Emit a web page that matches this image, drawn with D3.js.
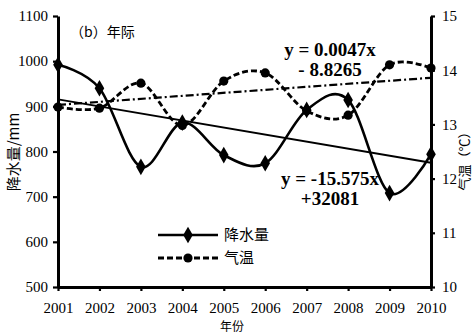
<!DOCTYPE html>
<html>
<head>
<meta charset="utf-8">
<script src="https://cdn.jsdelivr.net/npm/d3@7"></script>
<style>
  html, body { margin: 0; padding: 0; background: #fff; }
  svg { display: block; }
</style>
</head>
<body>
<svg id="chart" width="476" height="333"></svg>
<script>
// Annual precipitation (mm) and mean air temperature (°C), 2001–2010
const years = [2001, 2002, 2003, 2004, 2005, 2006, 2007, 2008, 2009, 2010];
const precip = [992, 940, 766, 864, 792, 774, 892, 914, 708, 794];
const temp = [13.32, 13.30, 13.76, 12.98, 13.80, 13.95, 13.25, 13.17, 14.10, 14.04];

// Linear trend of precipitation: y = slope * year + intercept
const precipFit = [-15.575, 32081];
// Temperature trend line, value at first and last year
const tempTrend = [13.36, 13.86];

const leftTicks = [500, 600, 700, 800, 900, 1000, 1100];
const rightTicks = [10, 11, 12, 13, 14, 15];

const svg = d3.select("#chart");
const plotL = 58, plotR = 431, plotT = 16, plotB = 287;

const x = d3.scaleLinear().domain([2001, 2010]).range([plotL, plotR]);
const yL = d3.scaleLinear().domain([500, 1100]).range([plotB, plotT]);
const yR = d3.scaleLinear().domain([10, 15]).range([plotB, plotT]);

// Trend lines
svg.append("line")
  .attr("x1", x(years[0])).attr("y1", yL(precipFit[0] * years[0] + precipFit[1]))
  .attr("x2", x(years[years.length - 1])).attr("y2", yL(precipFit[0] * years[years.length - 1] + precipFit[1]))
  .attr("stroke", "#000").attr("stroke-width", 2);

svg.append("line")
  .attr("x1", x(years[0])).attr("y1", yR(tempTrend[0]))
  .attr("x2", x(years[years.length - 1])).attr("y2", yR(tempTrend[1]))
  .attr("stroke", "#000").attr("stroke-width", 2.2)
  .attr("stroke-dasharray", "8,3,2,3");

// Smoothed series
const curve = d3.curveCatmullRom.alpha(0);
const precipLine = d3.line().x((d, i) => x(years[i])).y(d => yL(d)).curve(curve);
const tempLine = d3.line().x((d, i) => x(years[i])).y(d => yR(d)).curve(curve);

svg.append("path").datum(temp)
  .attr("d", tempLine).attr("fill", "none")
  .attr("stroke", "#000").attr("stroke-width", 2.8)
  .attr("stroke-dasharray", "6,3");

svg.append("path").datum(precip)
  .attr("d", precipLine).attr("fill", "none")
  .attr("stroke", "#000").attr("stroke-width", 2.6);

const diamond = d3.symbol().type(d3.symbolDiamond).size(80);

svg.append("g").selectAll("circle").data(temp).join("circle")
  .attr("cx", (d, i) => x(years[i])).attr("cy", d => yR(d))
  .attr("r", 4.6).attr("fill", "#000");

svg.append("g").selectAll("path").data(precip).join("path")
  .attr("d", diamond)
  .attr("transform", (d, i) => `translate(${x(years[i])},${yL(d)})`)
  .attr("fill", "#000");

// Axes
const serif = '"Liberation Serif", "DejaVu Serif", serif';
function styleAxis(g) {
  g.attr("font-family", null).attr("font-size", null);
  g.select(".domain").attr("stroke-width", 3);
  g.selectAll(".tick line").attr("stroke-width", 2.2);
  g.selectAll(".tick text")
    .attr("font-family", serif).attr("font-size", 15).attr("fill", "#000");
}

svg.append("g").attr("transform", `translate(${plotL},0)`)
  .call(d3.axisLeft(yL).tickValues(leftTicks).tickFormat(d3.format("d"))
    .tickSize(5).tickSizeOuter(0).tickPadding(5))
  .call(styleAxis);

svg.append("g").attr("transform", `translate(${plotR},0)`)
  .call(d3.axisRight(yR).tickValues(rightTicks).tickFormat(d3.format("d"))
    .tickSize(4).tickSizeOuter(0).tickPadding(7))
  .call(styleAxis);

svg.append("g").attr("transform", `translate(0,${plotB})`)
  .call(d3.axisBottom(x).tickValues(years).tickFormat(d3.format("d"))
    .tickSize(4).tickSizeOuter(0).tickPadding(11))
  .call(styleAxis);

// Axis titles
const cjk = '"Noto Sans CJK SC", "Noto Sans", sans-serif';
svg.append("text")
  .attr("transform", "translate(19,152) rotate(-90)")
  .attr("text-anchor", "middle")
  .style("font-family", cjk).style("font-size", "15px")
  .text("降水量/mm");

svg.append("text")
  .attr("transform", "translate(469,158) rotate(-90)")
  .attr("text-anchor", "middle")
  .style("font-family", cjk).style("font-size", "13px")
  .text("气温（℃）");

svg.append("text")
  .attr("x", 232).attr("y", 331)
  .attr("text-anchor", "middle")
  .style("font-family", cjk).style("font-size", "12px")
  .text("年份");

// Panel tag
svg.append("text")
  .attr("x", 70).attr("y", 37)
  .style("font-family", cjk).style("font-size", "14px")
  .text("（b）年际");

// Regression equations
function equation(lines, cx, y0) {
  const t = svg.append("text")
    .attr("text-anchor", "middle")
    .attr("font-family", serif).attr("font-size", 19).attr("font-weight", "bold");
  lines.forEach((s, i) => {
    t.append("tspan").attr("x", cx).attr("y", y0 + i * 20).text(s);
  });
}
equation(["y = 0.0047x", "- 8.8265"], 330, 56);
equation(["y = -15.575x", "+32081"], 330, 185);

// Legend
const legend = svg.append("g");
legend.append("line").attr("x1", 158).attr("x2", 218).attr("y1", 235).attr("y2", 235)
  .attr("stroke", "#000").attr("stroke-width", 2.6);
legend.append("path").attr("d", diamond).attr("transform", "translate(188,235)");
legend.append("text").attr("x", 224).attr("y", 240)
  .style("font-family", cjk).style("font-size", "15px").text("降水量");

legend.append("line").attr("x1", 158).attr("x2", 218).attr("y1", 258).attr("y2", 258)
  .attr("stroke", "#000").attr("stroke-width", 2.8).attr("stroke-dasharray", "6,3");
legend.append("circle").attr("cx", 188).attr("cy", 258).attr("r", 4.6);
legend.append("text").attr("x", 224).attr("y", 263)
  .style("font-family", cjk).style("font-size", "15px").text("气温");
</script>
</body>
</html>
